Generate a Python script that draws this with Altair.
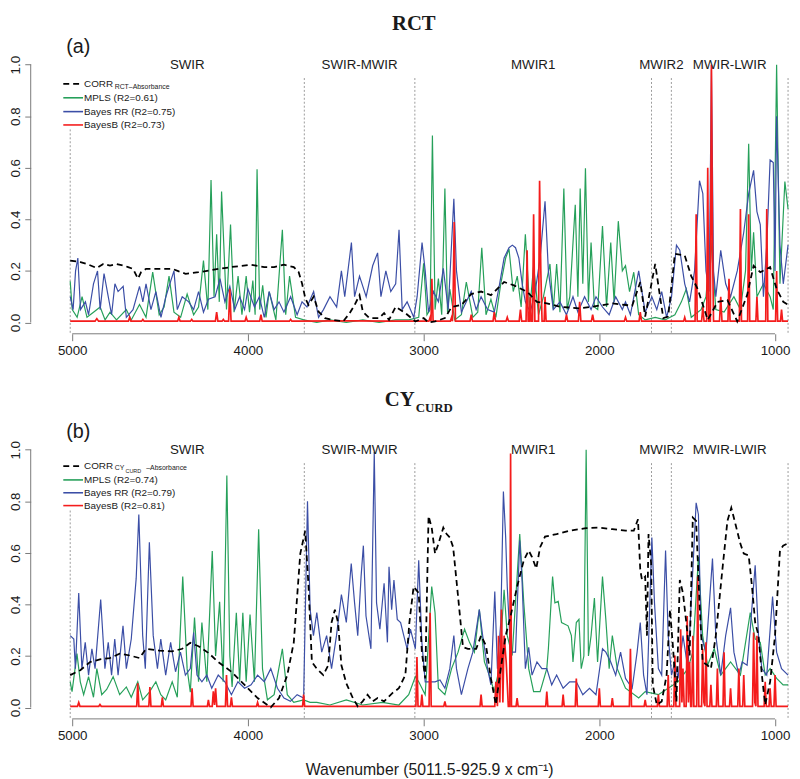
import altair as alt
import pandas as pd

# ---------------- data ----------------
region_bounds = [5011.5, 3679, 3050, 1703, 1590, 925.9]
region_names = ["SWIR", "SWIR-MWIR", "MWIR1", "MWIR2", "MWIR-LWIR"]
x_ticks = [5000, 4000, 3000, 2000, 1000]
y_ticks = [0.0, 0.2, 0.4, 0.6, 0.8, 1.0]

legend_a = ["MPLS (R2=0.61)", "Bayes RR (R2=0.75)", "BayesB (R2=0.73)"]
legend_b = ["MPLS (R2=0.74)", "Bayes RR (R2=0.79)", "BayesB (R2=0.81)"]

# Panel (a) RCT : (wavenumber, value)
a_corr = [(5011.5,0.240),(4953,0.234),(4916,0.227),(4860,0.211),(4823,0.227),(4785,0.221),(4748,0.227),(4710,0.221),(4682,0.215),(4654,0.208),(4626,0.170),(4608,0.195),(4580,0.208),(4505,0.208),(4430,0.208),(4393,0.198),(4355,0.189),(4281,0.195),(4168,0.208),(4094,0.215),(3981,0.224),(3907,0.215),(3851,0.215),(3795,0.224),(3739,0.215),(3711,0.195),(3692,0.151),(3673,0.093),(3655,0.068),(3626,0.100),(3598,0.042),(3561,0.017),(3514,0.010),(3458,0.004),(3421,0.036),(3393,0.068),(3365,0.106),(3346,0.042),(3309,0.017),(3253,0.017),(3225,0.036),(3197,0.010),(3159,0.061),(3103,0.036),(3047,0.004),(3000,0.017),(2972,0.0),(2935,0.004),(2879,0.017),(2841,0.060),(2785,0.068),(2729,0.110),(2673,0.120),(2617,0.106),(2542,0.157),(2486,0.144),(2411,0.119),(2355,0.080),(2299,0.074),(2224,0.061),(2112,0.055),(2038,0.061),(1925,0.074),(1813,0.065),(1767,0.157),(1739,0.023),(1682,0.227),(1664,0.144),(1636,0.017),(1608,0.023),(1570,0.266),(1514,0.260),(1477,0.180),(1440,0.130),(1383,0.010),(1327,0.080),(1271,0.087),(1215,0.004),(1159,0.106),(1122,0.220),(1084,0.195),(1028,0.215),(991,0.130),(953,0.080),(925.9,0.068)]

a_mpls = [(5011.5,0.16),(5000,0.05),(4972,0.02),(4944,0.10),(4916,0.02),(4879,0.04),(4841,0.06),(4813,0.01),(4785,0.04),(4748,0.01),(4692,0.05),(4664,0.01),(4617,0.07),(4580,0.02),(4542,0.195),(4505,0.03),(4477,0.06),(4449,0.18),(4421,0.04),(4383,0.02),(4346,0.11),(4309,0.03),(4281,0.06),(4253,0.24),(4228,0.05),(4210,0.553),(4193,0.10),(4178,0.342),(4163,0.08),(4150,0.508),(4122,0.05),(4099,0.38),(4079,0.04),(4056,0.18),(4034,0.03),(4010,0.18),(3991,0.04),(3972,0.163),(3959,0.03),(3948,0.594),(3933,0.05),(3916,0.144),(3897,0.02),(3879,0.12),(3841,0.01),(3804,0.36),(3785,0.03),(3763,0.18),(3729,0.02),(3682,0.01),(3608,0.0),(3533,0.01),(3440,0.0),(3346,0.01),(3253,0.0),(3159,0.01),(3084,0.01),(3028,0.02),(3000,0.23),(2981,0.03),(2963,0.05),(2950,0.725),(2935,0.05),(2916,0.17),(2897,0.03),(2879,0.52),(2864,0.04),(2851,0.13),(2823,0.01),(2785,0.03),(2757,0.157),(2720,0.02),(2692,0.04),(2669,0.29),(2645,0.03),(2617,0.09),(2589,0.02),(2561,0.15),(2533,0.25),(2514,0.285),(2490,0.12),(2467,0.18),(2445,0.06),(2421,0.342),(2396,0.05),(2374,0.22),(2346,0.03),(2318,0.10),(2281,0.227),(2262,0.05),(2243,0.227),(2224,0.04),(2202,0.52),(2183,0.05),(2168,0.10),(2137,0.457),(2122,0.10),(2109,0.52),(2094,0.15),(2079,0.598),(2062,0.08),(2047,0.31),(2028,0.06),(2009,0.05),(1982,0.374),(1959,0.06),(1935,0.31),(1916,0.08),(1892,0.393),(1869,0.20),(1851,0.22),(1828,0.12),(1804,0.195),(1776,0.03),(1739,0.01),(1682,0.02),(1626,0.01),(1570,0.03),(1533,0.08),(1505,0.13),(1477,0.02),(1421,0.05),(1393,0.10),(1365,0.32),(1337,0.05),(1290,0.04),(1234,0.10),(1197,0.05),(1168,0.20),(1150,0.693),(1135,0.20),(1122,0.35),(1103,0.10),(1066,0.15),(1028,0.10),(1010,0.05),(991,1.0),(972,0.15),(944,0.547),(925.9,0.44)]

a_brr = [(5011.5,0.10),(4995,0.05),(4981,0.20),(4968,0.25),(4953,0.05),(4925,0.08),(4907,0.03),(4879,0.15),(4856,0.20),(4841,0.05),(4819,0.19),(4795,0.10),(4776,0.03),(4757,0.15),(4739,0.12),(4710,0.14),(4692,0.02),(4654,0.05),(4617,0.14),(4598,0.08),(4580,0.15),(4552,0.05),(4524,0.12),(4495,0.02),(4467,0.10),(4449,0.14),(4421,0.20),(4402,0.05),(4374,0.10),(4337,0.08),(4309,0.05),(4281,0.12),(4253,0.04),(4225,0.09),(4187,0.10),(4159,0.17),(4131,0.08),(4103,0.14),(4075,0.05),(4047,0.10),(4019,0.05),(4000,0.13),(3963,0.06),(3935,0.10),(3907,0.02),(3879,0.12),(3851,0.05),(3823,0.08),(3795,0.04),(3757,0.10),(3720,0.03),(3692,0.08),(3664,0.06),(3626,0.12),(3598,0.02),(3570,0.05),(3533,0.10),(3495,0.06),(3468,0.20),(3449,0.10),(3411,0.31),(3393,0.10),(3365,0.18),(3327,0.10),(3290,0.22),(3262,0.27),(3243,0.10),(3215,0.20),(3187,0.12),(3159,0.15),(3140,0.36),(3122,0.05),(3094,0.08),(3056,0.02),(3037,0.10),(3009,0.31),(2991,0.20),(2972,0.04),(2944,0.12),(2916,0.08),(2888,0.21),(2860,0.05),(2828,0.48),(2813,0.20),(2785,0.04),(2757,0.08),(2729,0.12),(2701,0.05),(2673,0.10),(2636,0.05),(2598,0.04),(2570,0.14),(2542,0.25),(2514,0.29),(2495,0.30),(2477,0.29),(2458,0.25),(2439,0.15),(2421,0.08),(2393,0.04),(2365,0.12),(2337,0.25),(2309,0.47),(2290,0.20),(2262,0.05),(2224,0.08),(2187,0.03),(2150,0.10),(2122,0.04),(2084,0.10),(2047,0.05),(2019,0.10),(1982,0.06),(1944,0.03),(1907,0.10),(1869,0.05),(1851,0.08),(1823,0.03),(1776,0.20),(1739,0.04),(1701,0.10),(1673,0.05),(1645,0.12),(1617,0.02),(1589,0.10),(1561,0.30),(1542,0.28),(1514,0.15),(1486,0.08),(1458,0.20),(1430,0.55),(1411,0.50),(1393,0.20),(1375,0.12),(1362,0.98),(1350,0.20),(1337,0.10),(1309,0.28),(1281,0.15),(1253,0.10),(1215,0.20),(1178,0.35),(1150,0.50),(1122,0.59),(1103,0.43),(1084,0.38),(1066,0.10),(1047,0.30),(1028,0.63),(1010,0.62),(1000,0.20),(991,0.80),(972,0.30),(953,0.15),(925.9,0.30)]

a_bayesb = [(5011.5,0.005),(4870,0.005),(4860,0.015),(4850,0.005),(4680,0.005),(4673,0.02),(4666,0.005),(4605,0.005),(4598,0.012),(4591,0.005),(4400,0.005),(4393,0.02),(4386,0.005),(4327,0.005),(4320,0.012),(4313,0.005),(4185,0.005),(4178,0.04),(4171,0.005),(4147,0.005),(4140,0.012),(4133,0.005),(4110,0.005),(4103,0.13),(4096,0.005),(4017,0.005),(4010,0.02),(4003,0.005),(3933,0.005),(3926,0.03),(3919,0.005),(3764,0.005),(3757,0.012),(3750,0.005),(3400,0.006),(3200,0.005),(3050,0.005),(2970,0.005),(2963,0.02),(2958,0.005),(2953,0.17),(2946,0.005),(2848,0.005),(2841,0.02),(2836,0.005),(2832,0.10),(2826,0.39),(2819,0.005),(2736,0.005),(2729,0.03),(2722,0.005),(2605,0.005),(2598,0.04),(2591,0.005),(2531,0.005),(2524,0.02),(2517,0.005),(2456,0.005),(2449,0.05),(2442,0.005),(2417,0.005),(2411,0.28),(2405,0.005),(2398,0.005),(2393,0.10),(2388,0.005),(2380,0.005),(2374,0.42),(2367,0.005),(2346,0.005),(2340,0.55),(2333,0.20),(2326,0.005),(2314,0.005),(2309,0.10),(2303,0.005),(2194,0.005),(2187,0.03),(2180,0.005),(2119,0.005),(2112,0.08),(2105,0.005),(2045,0.005),(2038,0.03),(2031,0.005),(1858,0.005),(1851,0.02),(1844,0.005),(1774,0.005),(1767,0.04),(1760,0.005),(1520,0.005),(1514,0.02),(1508,0.005),(1455,0.005),(1449,0.42),(1443,0.005),(1418,0.005),(1411,0.06),(1404,0.005),(1389,0.005),(1383,0.60),(1377,0.005),(1368,0.005),(1362,1.0),(1356,0.30),(1350,0.005),(1316,0.005),(1309,0.10),(1302,0.005),(1268,0.005),(1262,0.17),(1256,0.005),(1203,0.005),(1197,0.44),(1191,0.005),(1156,0.005),(1150,0.42),(1144,0.005),(1109,0.005),(1103,0.10),(1097,0.005),(1053,0.005),(1047,0.44),(1041,0.005),(997,0.005),(991,0.20),(985,0.005),(969,0.005),(963,0.05),(957,0.005),(925.9,0.005)]

# Panel (b) CY_CURD
b_corr = [(5011.5,0.126),(4954,0.145),(4898,0.177),(4842,0.187),(4786,0.192),(4730,0.209),(4673,0.202),(4617,0.192),(4580,0.228),(4505,0.221),(4431,0.218),(4374,0.228),(4328,0.251),(4281,0.238),(4225,0.212),(4169,0.177),(4094,0.139),(4019,0.088),(3945,0.037),(3870,0.001),(3823,0.037),(3776,0.126),(3739,0.253),(3702,0.597),(3674,0.686),(3655,0.469),(3636,0.177),(3608,0.151),(3571,0.126),(3543,0.164),(3524,0.330),(3505,0.380),(3487,0.330),(3468,0.164),(3440,0.094),(3403,0.037),(3375,0.005),(3347,0.024),(3319,0.050),(3290,0.024),(3262,0.037),(3225,0.024),(3178,0.056),(3141,0.075),(3104,0.126),(3081,0.330),(3057,0.469),(3028,0.444),(3010,0.215),(2991,0.113),(2972,0.743),(2954,0.698),(2935,0.597),(2916,0.635),(2888,0.698),(2869,0.673),(2851,0.660),(2832,0.622),(2804,0.431),(2776,0.234),(2748,0.228),(2701,0.228),(2673,0.279),(2645,0.240),(2617,0.113),(2589,0.011),(2561,0.151),(2533,0.279),(2505,0.355),(2468,0.469),(2430,0.571),(2402,0.609),(2383,0.584),(2359,0.539),(2337,0.622),(2309,0.663),(2243,0.673),(2169,0.686),(2075,0.696),(2000,0.698),(1926,0.692),(1851,0.686),(1804,0.686),(1780,0.730),(1767,0.533),(1757,0.495),(1739,0.508),(1729,0.279),(1720,0.673),(1705,0.559),(1696,0.088),(1673,0.011),(1645,0.024),(1617,0.126),(1598,0.380),(1580,0.228),(1561,0.024),(1542,0.495),(1524,0.444),(1505,0.330),(1486,0.202),(1468,0.737),(1449,0.724),(1430,0.406),(1412,0.177),(1384,0.164),(1365,0.151),(1337,0.279),(1300,0.533),(1271,0.724),(1249,0.775),(1225,0.711),(1197,0.635),(1178,0.597),(1150,0.590),(1131,0.469),(1113,0.330),(1094,0.279),(1075,0.126),(1056,0.011),(1028,0.100),(1000,0.279),(972,0.609),(954,0.628),(925.9,0.637)]

b_mpls = [(5011.5,0.10),(5001,0.062),(4973,0.209),(4954,0.10),(4935,0.05),(4907,0.12),(4879,0.04),(4860,0.151),(4832,0.05),(4804,0.07),(4767,0.12),(4730,0.05),(4692,0.08),(4664,0.04),(4627,0.10),(4599,0.03),(4561,0.06),(4524,0.10),(4496,0.05),(4468,0.03),(4431,0.10),(4402,0.04),(4371,0.508),(4346,0.15),(4328,0.06),(4304,0.349),(4281,0.10),(4262,0.33),(4234,0.10),(4203,0.607),(4184,0.20),(4161,0.41),(4141,0.10),(4120,0.90),(4103,0.20),(4090,0.08),(4066,0.368),(4047,0.10),(4029,0.368),(4010,0.10),(3988,0.361),(3963,0.10),(3939,0.692),(3917,0.15),(3889,0.03),(3851,0.05),(3804,0.228),(3776,0.05),(3739,0.02),(3683,0.03),(3646,0.02),(3608,0.02),(3533,0.01),(3440,0.03),(3347,0.01),(3234,0.02),(3141,0.01),(3085,0.05),(3047,0.12),(3028,0.10),(2991,0.05),(2954,0.469),(2935,0.368),(2916,0.075),(2879,0.05),(2841,0.151),(2804,0.215),(2767,0.304),(2739,0.253),(2711,0.215),(2683,0.38),(2654,0.177),(2626,0.126),(2598,0.062),(2570,0.151),(2542,0.457),(2524,0.279),(2496,0.202),(2453,0.673),(2430,0.406),(2402,0.151),(2374,0.062),(2337,0.062),(2299,0.151),(2290,0.228),(2266,0.508),(2253,0.406),(2234,0.412),(2215,0.33),(2178,0.317),(2159,0.279),(2150,0.177),(2131,0.33),(2116,0.342),(2103,0.151),(2088,0.20),(2075,1.0),(2062,0.20),(2047,0.279),(2028,0.425),(2010,0.177),(1982,0.508),(1963,0.342),(1944,0.151),(1926,0.279),(1898,0.151),(1851,0.075),(1776,0.037),(1739,0.062),(1664,0.05),(1608,0.075),(1552,0.10),(1496,0.151),(1468,0.215),(1436,0.584),(1412,0.279),(1384,0.164),(1346,0.228),(1309,0.126),(1253,0.177),(1197,0.126),(1141,0.368),(1113,0.266),(1084,0.253),(1056,0.126),(1028,0.151),(991,0.113),(954,0.088),(925.9,0.088)]

b_brr = [(5011.5,0.279),(4991,0.266),(4982,0.151),(4963,0.444),(4945,0.151),(4926,0.253),(4907,0.126),(4888,0.228),(4870,0.151),(4838,0.419),(4814,0.151),(4795,0.253),(4776,0.126),(4758,0.266),(4739,0.126),(4711,0.317),(4692,0.151),(4664,0.266),(4636,0.501),(4621,0.749),(4599,0.279),(4584,0.151),(4561,0.641),(4539,0.279),(4515,0.151),(4496,0.266),(4468,0.126),(4440,0.253),(4412,0.139),(4384,0.215),(4356,0.126),(4328,0.151),(4309,0.291),(4290,0.126),(4262,0.10),(4234,0.126),(4206,0.075),(4169,0.126),(4131,0.10),(4094,0.05),(4057,0.10),(4019,0.075),(3982,0.088),(3945,0.126),(3907,0.10),(3870,0.151),(3832,0.075),(3795,0.037),(3758,0.024),(3720,0.05),(3683,0.037),(3661,0.80),(3646,0.38),(3627,0.279),(3608,0.368),(3580,0.215),(3552,0.279),(3524,0.151),(3496,0.279),(3468,0.438),(3440,0.33),(3412,0.559),(3393,0.406),(3375,0.279),(3356,0.508),(3343,0.628),(3328,0.355),(3300,0.228),(3281,0.991),(3268,0.406),(3249,0.304),(3225,0.482),(3206,0.253),(3197,0.546),(3182,0.38),(3169,0.495),(3150,0.342),(3131,0.33),(3113,0.279),(3094,0.228),(3075,0.304),(3047,0.228),(3028,0.571),(3010,0.253),(2991,0.10),(2963,0.10),(2935,0.10),(2907,0.107),(2879,0.075),(2851,0.151),(2828,0.279),(2813,0.151),(2785,0.05),(2748,0.151),(2720,0.215),(2683,0.38),(2664,0.279),(2636,0.151),(2617,0.088),(2595,0.45),(2580,0.151),(2561,0.33),(2546,0.838),(2533,0.66),(2524,0.469),(2505,0.215),(2477,0.215),(2453,0.648),(2440,0.495),(2421,0.151),(2402,0.234),(2383,0.126),(2355,0.177),(2327,0.151),(2299,0.151),(2271,0.088),(2243,0.126),(2206,0.075),(2169,0.10),(2131,0.10),(2094,0.05),(2056,0.075),(2019,0.05),(1982,0.228),(1963,0.215),(1935,0.177),(1907,0.126),(1879,0.215),(1851,0.113),(1813,0.075),(1785,0.215),(1767,0.33),(1748,0.126),(1729,0.05),(1701,0.66),(1686,0.406),(1664,0.151),(1645,0.126),(1623,0.609),(1608,0.279),(1589,0.126),(1570,0.177),(1552,0.113),(1524,0.279),(1496,0.151),(1468,0.533),(1449,0.794),(1436,0.749),(1421,0.279),(1393,0.215),(1356,0.578),(1337,0.279),(1309,0.126),(1281,0.279),(1253,0.387),(1234,0.215),(1206,0.126),(1187,0.177),(1159,0.164),(1141,0.304),(1113,0.552),(1094,0.279),(1075,0.151),(1047,0.126),(1014,0.431),(991,0.215),(963,0.151),(925.9,0.126)]

b_bayesb = [(5011.5,0.005),(4970,0.005),(4963,0.02),(4956,0.005),(4849,0.005),(4842,0.012),(4835,0.005),(4633,0.005),(4627,0.094),(4621,0.005),(4564,0.005),(4558,0.08),(4552,0.005),(4493,0.005),(4487,0.04),(4481,0.005),(4324,0.005),(4318,0.075),(4312,0.005),(4231,0.005),(4225,0.03),(4219,0.005),(4203,0.005),(4197,0.063),(4190,0.01),(4184,0.075),(4177,0.005),(4128,0.005),(4122,0.126),(4116,0.005),(4100,0.005),(4094,0.04),(4088,0.005),(3951,0.005),(3945,0.02),(3939,0.005),(3689,0.005),(3683,0.05),(3677,0.005),(3044,0.005),(3038,0.196),(3032,0.005),(3016,0.005),(3010,0.05),(3004,0.005),(2969,0.005),(2963,0.368),(2957,0.005),(2885,0.005),(2879,0.024),(2873,0.005),(2679,0.005),(2673,0.05),(2667,0.005),(2595,0.005),(2589,0.10),(2580,0.005),(2574,0.279),(2566,0.02),(2557,0.38),(2549,0.02),(2542,0.279),(2530,0.177),(2518,0.005),(2510,0.005),(2505,0.985),(2500,0.005),(2474,0.005),(2468,0.037),(2462,0.005),(2305,0.005),(2299,0.062),(2293,0.005),(2212,0.005),(2206,0.05),(2200,0.005),(2137,0.005),(2131,0.113),(2125,0.005),(2006,0.005),(2000,0.075),(1994,0.005),(1932,0.005),(1926,0.037),(1920,0.005),(1829,0.005),(1823,0.228),(1817,0.005),(1745,0.005),(1739,0.03),(1733,0.005),(1670,0.005),(1664,0.05),(1658,0.005),(1614,0.005),(1608,0.126),(1602,0.005),(1576,0.005),(1570,0.202),(1564,0.005),(1543,0.005),(1537,0.304),(1530,0.02),(1524,0.151),(1517,0.005),(1506,0.005),(1500,0.355),(1493,0.02),(1486,0.177),(1480,0.005),(1474,0.005),(1468,0.279),(1462,0.005),(1446,0.005),(1440,0.508),(1434,0.005),(1418,0.005),(1412,0.228),(1405,0.02),(1399,0.005),(1393,0.253),(1387,0.005),(1371,0.005),(1365,0.088),(1359,0.005),(1334,0.005),(1328,0.151),(1322,0.005),(1296,0.005),(1290,0.215),(1284,0.005),(1259,0.005),(1253,0.075),(1247,0.005),(1212,0.005),(1206,0.151),(1200,0.005),(1184,0.005),(1178,0.126),(1172,0.005),(1128,0.005),(1122,0.291),(1115,0.02),(1109,0.005),(1103,0.279),(1097,0.005),(1062,0.005),(1056,0.10),(1050,0.005),(1034,0.005),(1028,0.075),(1022,0.005),(1006,0.005),(1000,0.126),(994,0.005),(925.9,0.005)]

# ---------------- styling ----------------
W, H = 727, 282
SANS = "Liberation Sans"
SERIF = "Liberation Serif"
GREEN = "#26a05a"
BLUE = "#3b4ea6"
RED = "#f41c1c"
GRAY = "#7a7a7a"
TXT = "#1a1a1a"

xs = alt.Scale(domain=[925.9, 5011.5], reverse=True, nice=False, zero=False)
ys = alt.Scale(domain=[-0.04, 1.04], nice=False, zero=False)
ONE = pd.DataFrame({"k": [0]})


def ptext(s, x, y, size, font=SANS, weight="normal", align="left", baseline="middle"):
    return alt.Chart(ONE).mark_text(font=font, fontSize=size, fontWeight=weight, align=align,
                                    baseline=baseline, color=TXT).encode(
        x=alt.value(x), y=alt.value(y), text=alt.value(s))


def prule(x1, x2, y, color, width, dash=None):
    kw = dict(color=color, strokeWidth=width)
    if dash:
        kw["strokeDash"] = dash
    return alt.Chart(ONE).mark_rule(**kw).encode(x=alt.value(x1), x2=alt.value(x2), y=alt.value(y))


def panel(corr, mpls, brr, bb, labels, rows, tag, xtitle, title_layers, sub_layers):
    xa = alt.Axis(values=x_ticks, format="d", domain=False, grid=False, tickSize=7, tickColor=GRAY,
                  labelFont=SANS, labelFontSize=13.5, labelColor=TXT, labelPadding=3, offset=1,
                  labelFlush=False, labelOverlap=False, title=xtitle, titleFont=SANS,
                  titleFontSize=16, titleFontWeight="normal", titlePadding=20, titleColor=TXT)
    ya = alt.Axis(values=y_ticks, format=".1f", domain=False, grid=False, tickSize=6, tickColor=GRAY,
                  labelFont=SANS, labelFontSize=13.5, labelColor=TXT, labelAngle=-90,
                  labelAlign="center", labelBaseline="bottom", labelPadding=2, offset=40,
                  title=None, labelFlush=False, labelOverlap=False)

    def X(f):
        return alt.X(f, type="quantitative", scale=xs, axis=xa)

    def Y(f):
        return alt.Y(f, type="quantitative", scale=ys, axis=ya)

    layers = []
    vdf = pd.DataFrame({"wn": region_bounds, "lo": -0.04, "hi": 0.95})
    layers.append(alt.Chart(vdf).mark_rule(color="#9a9a9a", strokeDash=[2, 2], strokeWidth=1)
                  .encode(x=X("wn"), y=Y("lo"), y2="hi"))
    layers.append(alt.Chart(pd.DataFrame({"a": [x_ticks[0]], "b": [x_ticks[-1]]}))
                  .mark_rule(color=GRAY).encode(x=X("a"), x2="b", y=alt.value(H + 1)))
    layers.append(alt.Chart(pd.DataFrame({"a": [y_ticks[0]], "b": [y_ticks[-1]]}))
                  .mark_rule(color=GRAY).encode(y=Y("a"), y2="b", x=alt.value(-40)))
    for pts, color, w in [(mpls, GREEN, 1.2), (brr, BLUE, 1.2), (bb, RED, 1.7)]:
        df = pd.DataFrame(pts, columns=["wn", "v"])
        layers.append(alt.Chart(df).mark_line(color=color, strokeWidth=w).encode(x=X("wn"), y=Y("v")))
    df = pd.DataFrame(corr, columns=["wn", "v"])
    layers.append(alt.Chart(df).mark_line(color="black", strokeWidth=1.8, strokeDash=[6, 4])
                  .encode(x=X("wn"), y=Y("v")))

    mids = [(region_bounds[i] + region_bounds[i + 1]) / 2 for i in range(len(region_names))]
    rdf = pd.DataFrame({"name": region_names, "mid": mids, "yl": 1.0})
    layers.append(alt.Chart(rdf).mark_text(font=SANS, fontSize=13.5, color=TXT, baseline="middle")
                  .encode(x=X("mid"), y=Y("yl"), text="name"))

    # legend
    layers.append(alt.Chart(ONE).mark_rect(color="white").encode(
        x=alt.value(-14), x2=alt.value(108), y=alt.value(rows[0] - 9), y2=alt.value(rows[-1] + 4)))
    layers.append(prule(-7, 13, rows[0], "black", 1.8, [6, 4]))
    layers.append(ptext("CORR", 14, rows[0], 10))
    layers.extend(sub_layers(rows[0]))
    for lab, color, ry in zip(labels, [GREEN, BLUE, RED], rows[1:]):
        layers.append(prule(-7, 13, ry, color, 1.6))
        layers.append(ptext(lab, 14, ry, 10))

    layers.append(ptext(tag, -4, -7, 20))
    layers.extend(title_layers)
    return alt.layer(*layers).properties(width=W, height=H)


def sub_a(ry):
    return [ptext("RCT\u2013Absorbance", 45, ry + 3, 7)]


def sub_b(ry):
    return [ptext("CY", 45, ry + 1.5, 7),
            ptext("CURD", 56, ry + 4.5, 5.5),
            ptext("\u2013Absorbance", 77, ry + 1.5, 7)]


title_a = [ptext("RCT", 348, -25, 21, font=SERIF, weight="bold", align="center", baseline="alphabetic")]
title_b = [ptext("CY", 349, -34, 21, font=SERIF, weight="bold", align="right", baseline="alphabetic"),
           ptext("CURD", 350, -28, 13, font=SERIF, weight="bold", align="left", baseline="alphabetic")]

pa = panel(a_corr, a_mpls, a_brr, a_bayesb, legend_a, [30, 44, 58, 71.5], "(a)", None, title_a, sub_a)
pb = panel(b_corr, b_mpls, b_brr, b_bayesb, legend_b, [27, 41, 54, 67], "(b)",
           "Wavenumber (5011.5-925.9 x cm\u207b\u00b9)", title_b, sub_b)

chart = alt.vconcat(pa, pb, spacing=32, padding=0, background="white").configure_view(stroke=None)
chart.save("out.html", embed_options={"renderer": "svg", "actions": False})
